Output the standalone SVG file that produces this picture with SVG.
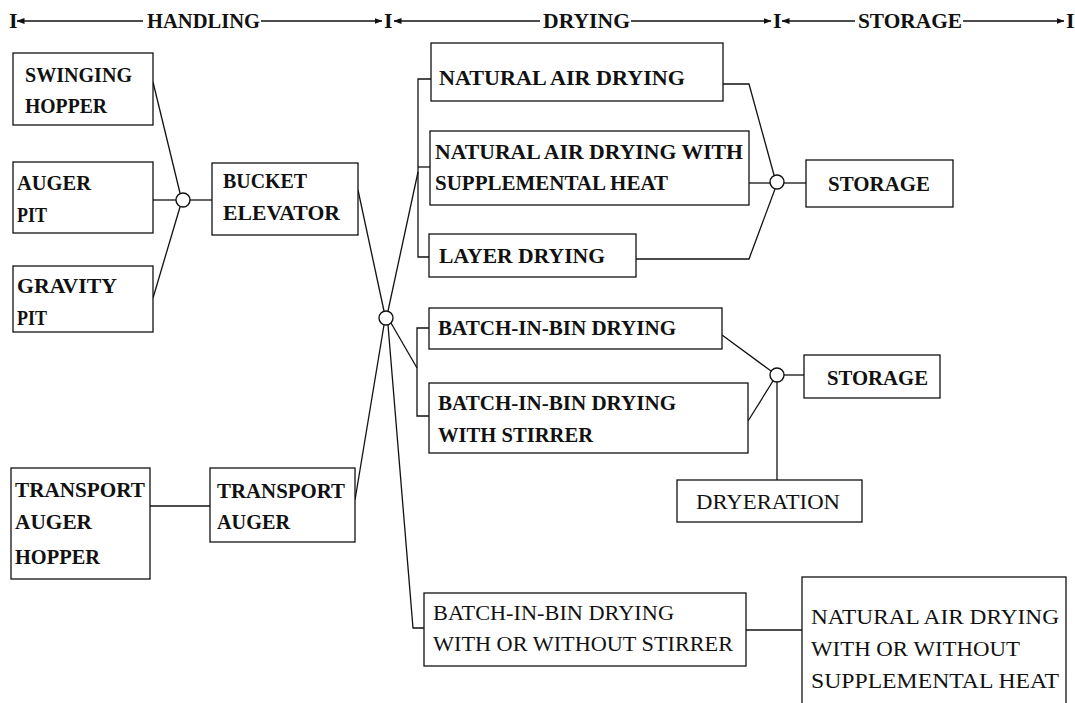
<svg xmlns="http://www.w3.org/2000/svg" width="1075" height="703" viewBox="0 0 1075 703">
<defs>
<style>
text{font-family:"Liberation Serif","Times New Roman",serif;font-size:22px;font-weight:bold;fill:#111}
.hdr{font-size:22px;font-weight:bold}
.nw{font-weight:normal}
.box{fill:#fff;stroke:#111;stroke-width:1.3}
.ln{fill:none;stroke:#111;stroke-width:1.3}
.j{fill:#fff;stroke:#111;stroke-width:1.4}
.al{fill:none;stroke:#111;stroke-width:1.3;marker-end:url(#ah)}
</style>
<marker id="ah" viewBox="0 0 8 6" refX="7.5" refY="3" markerWidth="8" markerHeight="6" markerUnits="userSpaceOnUse" orient="auto">
<path d="M0,0 L8,3 L0,6 Z" fill="#111"/>
</marker>
</defs>
<rect width="1075" height="703" fill="#fff"/>

<g id="header">
<text class="hdr" x="9" y="28">I</text>
<line class="al" x1="143" y1="21" x2="17" y2="21"/>
<text class="hdr" x="147" y="28" textLength="113" lengthAdjust="spacingAndGlyphs">HANDLING</text>
<line class="al" x1="261" y1="21" x2="382" y2="21"/>
<text class="hdr" x="384" y="28">I</text>
<line class="al" x1="540" y1="21" x2="394" y2="21"/>
<text class="hdr" x="543" y="28" textLength="87" lengthAdjust="spacingAndGlyphs">DRYING</text>
<line class="al" x1="631" y1="21" x2="771" y2="21"/>
<text class="hdr" x="773" y="28">I</text>
<line class="al" x1="855" y1="21" x2="782" y2="21"/>
<text class="hdr" x="858" y="28" textLength="104" lengthAdjust="spacingAndGlyphs">STORAGE</text>
<line class="al" x1="963" y1="21" x2="1064" y2="21"/>
<text class="hdr" x="1066" y="28">I</text>
</g>

<g id="connectors">
<path class="ln" d="M153,82 L180,193"/>
<path class="ln" d="M153,200 L176,200"/>
<path class="ln" d="M153,298 L180,207"/>
<path class="ln" d="M190,200 L212,200"/>
<path class="ln" d="M358,190 L384,311"/>
<path class="ln" d="M388,311 L418,172"/>
<path class="ln" d="M431,79 L418,79 L418,257 L429,257"/>
<path class="ln" d="M418,167 L430,167"/>
<path class="ln" d="M391,323 L417,368"/>
<path class="ln" d="M429,328 L417,328 L417,416 L429,416"/>
<path class="ln" d="M384,325 L355,500"/>
<path class="ln" d="M388,325 L413,628 L424,628"/>
<path class="ln" d="M746,630 L802,630"/>
<path class="ln" d="M150,506 L210,506"/>
<path class="ln" d="M723,84 L749,84 L774,175"/>
<path class="ln" d="M749,183 L770,183"/>
<path class="ln" d="M636,259 L749,259 L775,189"/>
<path class="ln" d="M784,183 L806,183"/>
<path class="ln" d="M722,335 L771,371"/>
<path class="ln" d="M748,421 L773,381"/>
<path class="ln" d="M784,375 L804,375"/>
<path class="ln" d="M777,382 L777,480"/>
<circle class="j" cx="183" cy="200" r="7"/>
<circle class="j" cx="386" cy="318" r="7"/>
<circle class="j" cx="777" cy="182" r="7"/>
<circle class="j" cx="777" cy="375" r="7"/>
</g>

<g id="swinging-hopper">
<rect class="box" x="13" y="53" width="140" height="72"/>
<text x="25" y="82" textLength="107" lengthAdjust="spacingAndGlyphs">SWINGING</text>
<text x="25" y="113" textLength="82" lengthAdjust="spacingAndGlyphs">HOPPER</text>
</g>
<g id="auger-pit">
<rect class="box" x="13" y="162" width="140" height="71"/>
<text x="17" y="190" textLength="74" lengthAdjust="spacingAndGlyphs">AUGER</text>
<text x="17" y="222" textLength="30" lengthAdjust="spacingAndGlyphs">PIT</text>
</g>
<g id="gravity-pit">
<rect class="box" x="13" y="266" width="140" height="66"/>
<text x="17" y="293" textLength="100" lengthAdjust="spacingAndGlyphs">GRAVITY</text>
<text x="17" y="325" textLength="30" lengthAdjust="spacingAndGlyphs">PIT</text>
</g>
<g id="bucket-elevator">
<rect class="box" x="212" y="163" width="146" height="72"/>
<text x="223" y="188" textLength="84" lengthAdjust="spacingAndGlyphs">BUCKET</text>
<text x="223" y="220" textLength="117" lengthAdjust="spacingAndGlyphs">ELEVATOR</text>
</g>
<g id="transport-auger-hopper">
<rect class="box" x="11" y="468" width="139" height="111"/>
<text x="15" y="497" textLength="130" lengthAdjust="spacingAndGlyphs">TRANSPORT</text>
<text x="15" y="529" textLength="77" lengthAdjust="spacingAndGlyphs">AUGER</text>
<text x="15" y="564" textLength="85" lengthAdjust="spacingAndGlyphs">HOPPER</text>
</g>
<g id="transport-auger">
<rect class="box" x="210" y="468" width="145" height="74"/>
<text x="217" y="498" textLength="128" lengthAdjust="spacingAndGlyphs">TRANSPORT</text>
<text x="217" y="529" textLength="73" lengthAdjust="spacingAndGlyphs">AUGER</text>
</g>
<g id="natural-air-drying">
<rect class="box" x="431" y="43" width="292" height="58"/>
<text x="439" y="85" textLength="246" lengthAdjust="spacingAndGlyphs">NATURAL AIR DRYING</text>
</g>
<g id="natural-air-drying-heat">
<rect class="box" x="430" y="131" width="319" height="74"/>
<text x="435" y="159" textLength="308" lengthAdjust="spacingAndGlyphs">NATURAL AIR DRYING WITH</text>
<text x="435" y="190" textLength="233" lengthAdjust="spacingAndGlyphs">SUPPLEMENTAL HEAT</text>
</g>
<g id="layer-drying">
<rect class="box" x="429" y="234" width="207" height="43"/>
<text x="439" y="263" textLength="166" lengthAdjust="spacingAndGlyphs">LAYER DRYING</text>
</g>
<g id="storage-1">
<rect class="box" x="806" y="160" width="147" height="47"/>
<text x="828" y="191" textLength="102" lengthAdjust="spacingAndGlyphs">STORAGE</text>
</g>
<g id="batch-in-bin">
<rect class="box" x="429" y="308" width="293" height="41"/>
<text x="438" y="335" textLength="238" lengthAdjust="spacingAndGlyphs">BATCH-IN-BIN DRYING</text>
</g>
<g id="batch-in-bin-stirrer">
<rect class="box" x="429" y="383" width="319" height="70"/>
<text x="438" y="410" textLength="238" lengthAdjust="spacingAndGlyphs">BATCH-IN-BIN DRYING</text>
<text x="438" y="442" textLength="155" lengthAdjust="spacingAndGlyphs">WITH STIRRER</text>
</g>
<g id="storage-2">
<rect class="box" x="804" y="355" width="136" height="43"/>
<text x="827" y="385" textLength="101" lengthAdjust="spacingAndGlyphs">STORAGE</text>
</g>
<g id="dryeration">
<rect class="box" x="677" y="480" width="185" height="42"/>
<text class="nw" x="696" y="509" textLength="144" lengthAdjust="spacingAndGlyphs">DRYERATION</text>
</g>
<g id="batch-in-bin-with-or-without">
<rect class="box" x="424" y="593" width="322" height="73"/>
<text class="nw" x="433" y="620" textLength="241" lengthAdjust="spacingAndGlyphs">BATCH-IN-BIN DRYING</text>
<text class="nw" x="433" y="651" textLength="300" lengthAdjust="spacingAndGlyphs">WITH OR WITHOUT STIRRER</text>
</g>
<g id="natural-air-with-or-without">
<rect class="box" x="802" y="577" width="264" height="140"/>
<text class="nw" x="811" y="624" textLength="248" lengthAdjust="spacingAndGlyphs">NATURAL AIR DRYING</text>
<text class="nw" x="811" y="656" textLength="209" lengthAdjust="spacingAndGlyphs">WITH OR WITHOUT</text>
<text class="nw" x="811" y="688" textLength="248" lengthAdjust="spacingAndGlyphs">SUPPLEMENTAL HEAT</text>
</g>
</svg>
